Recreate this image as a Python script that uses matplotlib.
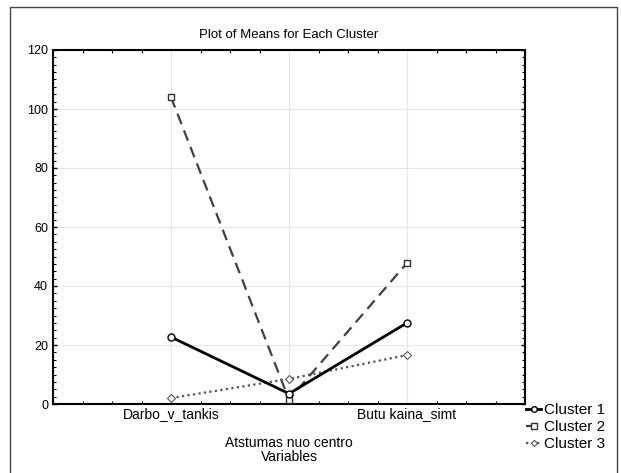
import matplotlib
matplotlib.use("Agg")
import matplotlib.pyplot as plt
from matplotlib.ticker import MultipleLocator
from matplotlib.patches import Rectangle

plt.rcParams['font.family'] = ['Liberation Sans', 'DejaVu Sans']

categories = ["Darbo_v_tankis", "Atstumas nuo centro", "Butu kaina_simt"]
cluster1 = [22.7, 3.5, 27.5]
cluster2 = [104.0, 1.5, 47.8]
cluster3 = [2.0, 8.5, 16.6]
series_names = ["Cluster 1", "Cluster 2", "Cluster 3"]
yticks = [0, 20, 40, 60, 80, 100, 120]

W, H = 621, 473
fig = plt.figure(figsize=(W / 100, H / 100), dpi=100)
ax = fig.add_axes([53 / W, 1 - 404 / H, (525 - 53) / W, (404 - 50) / H])

x = list(range(len(categories)))
ax.plot(x, cluster1, color='black', lw=2.0, ls='-', marker='o', ms=5,
        mfc='white', mec='black', mew=1.0, label=series_names[0], zorder=4)
ax.plot(x, cluster2, color='#404040', lw=1.6, ls=(0, (5, 3)), marker='s', ms=5,
        mfc='white', mec='#303030', mew=1.0, label=series_names[1], zorder=3)
ax.plot(x, cluster3, color='#555555', lw=1.6, ls=(0, (1, 1.5)), marker='D', ms=4,
        mfc='white', mec='#555555', mew=0.8, label=series_names[2], zorder=3)

ax.set_xlim(-1, 3)
ax.set_ylim(0, 120)
ax.set_yticks(yticks)
ax.set_yticklabels([str(v) for v in yticks])
ax.set_xticks(x)
ax.set_xticklabels(categories)
ax.xaxis.set_minor_locator(MultipleLocator(0.25))
ax.yaxis.set_minor_locator(MultipleLocator(2.5))

ax.grid(True, which='major', color='#e6e6e6', lw=0.8)
ax.set_axisbelow(True)

ax.tick_params(which='both', direction='in', top=True, right=True,
               color='black')
ax.tick_params(which='major', length=3, width=1.0, labelsize=9)
ax.tick_params(which='minor', length=2, width=0.8)
ax.tick_params(axis='x', which='major', labelsize=10, length=0)
for i, t in enumerate(ax.xaxis.get_major_ticks()):
    t.set_pad(2 if i % 2 == 0 else 23)

for s in ax.spines.values():
    s.set_linewidth(1.5)
    s.set_color('black')

ax.set_title("Plot of Means for Each Cluster", fontsize=9.5, pad=9)
ax.set_xlabel("Variables", fontsize=10, labelpad=0)

fig.legend(loc='upper left', bbox_to_anchor=(526 / W, 1 - 403 / H),
           frameon=False, fontsize=11, handlelength=1.0, handletextpad=0.15,
           labelspacing=0.2, borderpad=0, borderaxespad=0, markerscale=0.8)

fig.patches.append(Rectangle((10 / W, -0.05), (617 - 10) / W, 1.05 - 7 / H,
                             transform=fig.transFigure, fill=False,
                             ec='#444444', lw=1.0))

fig.savefig("out.png", dpi=100)
